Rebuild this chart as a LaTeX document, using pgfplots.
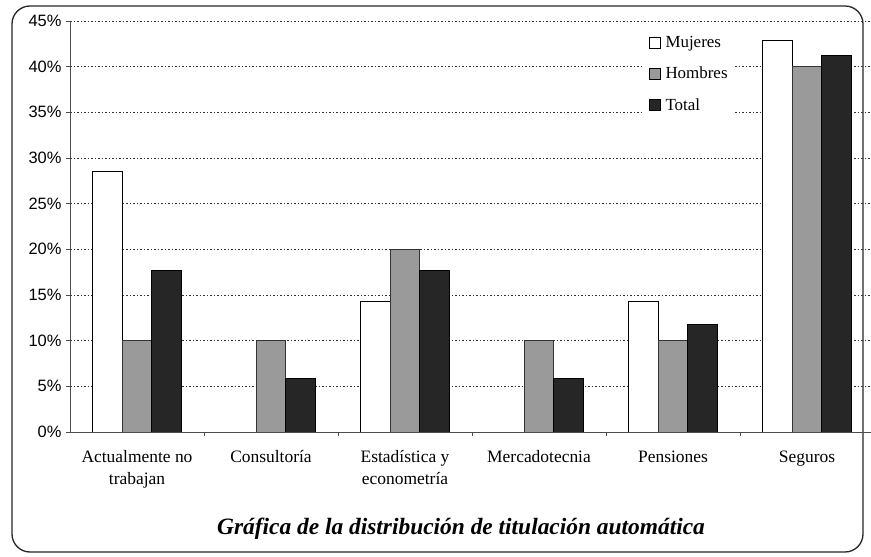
\documentclass[border=0pt]{standalone}
\usepackage{pgfplots}
\pgfplotsset{compat=1.18}
\usepackage{fontspec}
\setmainfont{Liberation Serif}
\newfontfamily\arialf{Liberation Sans}
\definecolor{hgray}{HTML}{9A9A9A}
\definecolor{tdark}{HTML}{262626}
\begin{document}
\begin{tikzpicture}
\path[use as bounding box] (0bp,0bp) rectangle (871bp,557bp);
\draw[line width=1.3bp, rounded corners=18bp, black!85] (12bp,5bp) rectangle (863bp,551bp);
\begin{axis}[
  at={(70bp,125bp)}, anchor=south west,
  scale only axis, width=804bp, height=411bp,
  ybar=0pt, bar width=29.5bp,
  ymin=0, ymax=45, xmin=-0.5, xmax=5.5,
  enlargelimits=false,
  axis x line*=bottom, axis y line*=left,
  axis line style={black!70, line width=0.9bp},
  ytick={0,5,...,45},
  yticklabel={\arialf\pgfmathprintnumber[assume math mode=true]{\tick}\%},
  yticklabel style={font=\arialf\fontsize{16.5}{18}\selectfont, xshift=-1bp},
  ymajorgrids,
  grid style={black!80, line width=0.7bp, dash pattern=on 1.5bp off 2bp},
  tick align=outside,
  major tick length=4bp,
  tick style={black!70, line width=0.8bp},
  xtick={0,...,5},
  xticklabels={{Actualmente no\\trabajan},{Consultoría},{Estadística y\\econometría},{Mercadotecnia},{Pensiones},{Seguros}},
  major x tick style={draw=none},
  xticklabel style={align=center, font=\fontsize{17.5}{22}\selectfont, yshift=-11bp},
  extra x ticks={0.5,1.5,2.5,3.5,4.5},
  extra x tick labels={},
  extra x tick style={grid=none, major x tick style={draw=black!70}},
  legend image code/.code={\draw[#1,draw=black,line width=0.8bp] (0bp,-5.5bp) rectangle (11bp,5.5bp); \path (15bp,0bp);},
  legend style={at={(0.712,0.975)}, anchor=north west, draw=none, fill=white,
    font=\fontsize{17}{19}\selectfont, row sep=14bp,
    inner xsep=6bp, inner ysep=3bp,
    nodes={inner xsep=1bp}},
  legend cell align=left,
]
\addplot[fill=white, draw=black, line width=0.9bp] coordinates {(0,28.57) (1,0) (2,14.29) (3,0) (4,14.29) (5,42.86)};
\addplot[fill=hgray, draw=black!80, line width=0.9bp] coordinates {(0,10) (1,10) (2,20) (3,10) (4,10) (5,40)};
\addplot[fill=tdark, draw=black, line width=0.9bp] coordinates {(0,17.65) (1,5.88) (2,17.65) (3,5.88) (4,11.76) (5,41.18)};
\legend{Mujeres,Hombres,Total}
\end{axis}
\node[font=\bfseries\itshape\fontsize{23.5}{26}\selectfont] at (461bp,28bp) {Gráfica de la distribución de titulación automática};
\end{tikzpicture}
\end{document}
